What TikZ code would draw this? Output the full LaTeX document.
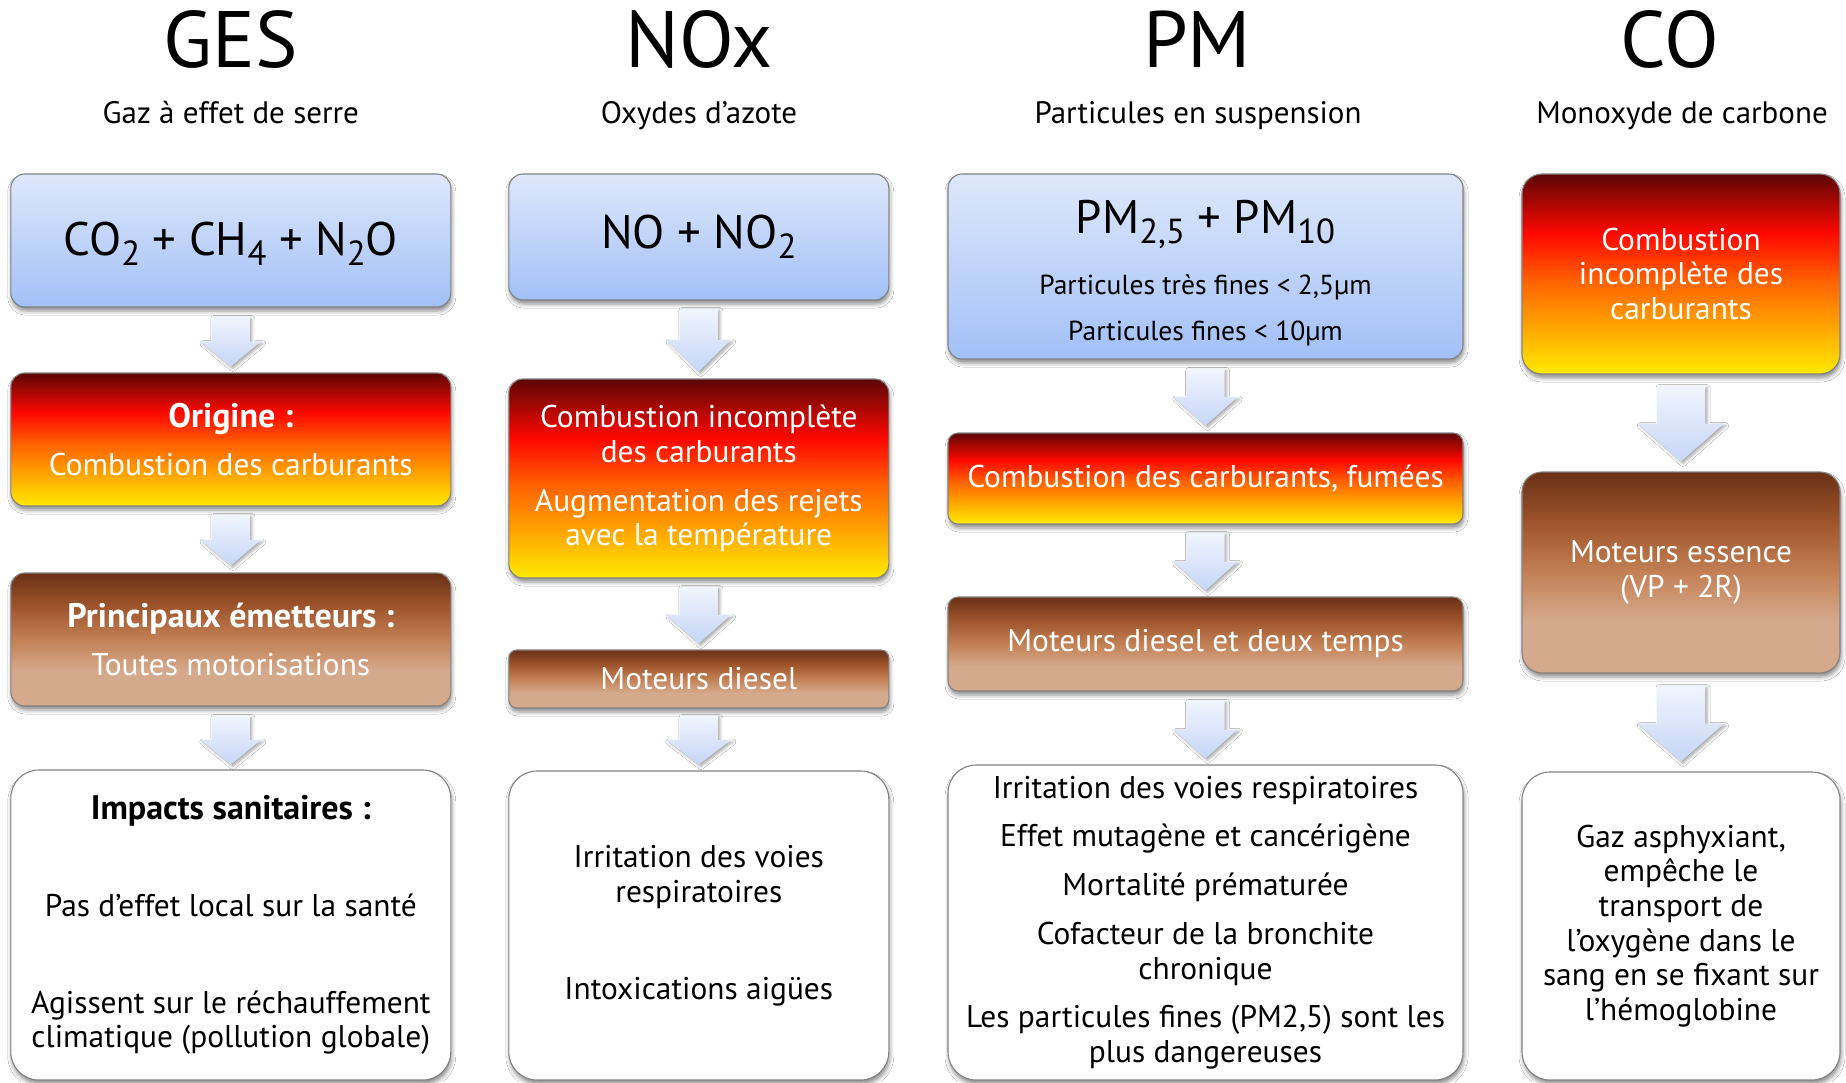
\documentclass[tikz,border=0pt]{standalone}
\usepackage{fontspec}
\setmainfont{PT Sans}
\usepackage{graphicx}
\usetikzlibrary{calc,shadows.blur}

\definecolor{fdark}{RGB}{92,6,6}
\definecolor{fred}{RGB}{255,8,0}
\definecolor{forgA}{RGB}{255,100,0}
\definecolor{forgB}{RGB}{255,170,0}
\definecolor{fyel}{RGB}{255,234,0}
\definecolor{bdark}{RGB}{106,48,22}
\definecolor{bmidA}{RGB}{160,86,45}
\definecolor{bmidB}{RGB}{195,128,85}
\definecolor{blight}{RGB}{213,170,140}
\definecolor{blueTop}{RGB}{222,232,251}
\definecolor{blueBot}{RGB}{162,192,247}
\definecolor{arrTop}{RGB}{241,245,254}
\definecolor{arrBot}{RGB}{198,214,247}
\definecolor{boxline}{RGB}{130,130,130}

\pgfdeclareverticalshading{fireshade}{100bp}{color(0bp)=(fyel); color(25bp)=(fyel); color(36bp)=(forgB); color(48bp)=(forgA); color(60bp)=(fred); color(75bp)=(fdark); color(100bp)=(fdark)}
\pgfdeclareverticalshading{brownshade}{100bp}{color(0bp)=(blight); color(25bp)=(blight); color(38bp)=(blight); color(50bp)=(bmidB); color(62bp)=(bmidA); color(75bp)=(bdark); color(100bp)=(bdark)}
\pgfdeclareverticalshading{blueshade}{100bp}{color(0bp)=(blueBot); color(25bp)=(blueBot); color(75bp)=(blueTop); color(100bp)=(blueTop)}
\pgfdeclareverticalshading{arrowshade}{100bp}{color(0bp)=(arrBot); color(25bp)=(arrBot); color(75bp)=(arrTop); color(100bp)=(arrTop)}

\newcommand\bodyfont{\fontsize{31.4}{34.7}\selectfont}
\newcommand\formfont{\fontsize{47}{56}\selectfont}
\newcommand\hd[1]{{\fontsize{34}{34.7}\selectfont\bfseries #1}}
\newcommand\dn[1]{\raisebox{-0.22em}{\scalebox{0.74}{#1}}}

\newcommand\flowarrow[6]{%
  \path[flowarr] let \p1=($(#1.south)+(0,#3)$), \p2=($(#2.north)-(0,#4)$),
    \n1={0.5*(\y1-\y2)} in
    (\x1-#5pt,\y1) -- (\x1+#5pt,\y1) -- (\x1+#5pt,\y1-\n1) -- (\x1+#6pt,\y1-\n1)
    -- (\x2,\y2) -- (\x1-#6pt,\y1-\n1) -- (\x1-#5pt,\y1-\n1) -- cycle;}

\tikzset{
  box/.style={rounded corners=14pt, draw=boxline, line width=1.1pt, inner sep=0pt,
    align=center, font=\bodyfont,
    blur shadow={shadow xshift=1pt, shadow yshift=-4pt, shadow blur radius=4pt, shadow opacity=45}},
  bluebox/.style={box, shade, shading=blueshade, text=black},
  firebox/.style={box, shade, shading=fireshade, text=white},
  brownbox/.style={box, shade, shading=brownshade, text=white},
  whitebox/.style={box, fill=white, rounded corners=28pt, text=black},
  flowarr/.style={shade, shading=arrowshade,
    blur shadow={shadow xshift=2pt, shadow yshift=-2pt, shadow blur radius=3pt, shadow opacity=35}},
  titletxt/.style={anchor=base, font=\fontsize{80}{90}\selectfont},
  subtxt/.style={anchor=base, font=\fontsize{31}{36}\selectfont},
}

\begin{document}
\begin{tikzpicture}[x=1pt,y=-1pt]
\useasboundingbox (0,0) rectangle (1846,1082);
\fill[white] (0,0) rectangle (1846,1082);

% titles
\node[titletxt] (tGES) at (230.8,67) {GES};
\node[subtxt] (sGES) at (230.8,123) {Gaz à effet de serre};
\node[titletxt] (tNOx) at (699,67) {NOx};
\node[subtxt] (sNOx) at (699,123) {Oxydes d’azote};
\node[titletxt] (tPM) at (1197,67) {PM};
\node[subtxt] (sPM) at (1198,123) {Particules en suspension};
\node[titletxt] (tCO) at (1670,67) {CO};
\node[subtxt] (sCO) at (1682,123) {Monoxyde de carbone};

% GES column
\node[bluebox, minimum width=440pt, minimum height=133pt, font=\formfont] (g1) at (230.8,240.5)
  {\raisebox{-3.5pt}[\height][\depth]{CO\dn{2} + CH\dn{4} + N\dn{2}O}};
\node[firebox, minimum width=440pt, minimum height=133pt] (g2) at (230.8,439.5)
  {\hd{Origine :}\\[14pt]Combustion des carburants};
\node[brownbox, minimum width=440pt, minimum height=133pt] (g3) at (230.8,639.5)
  {\hd{Principaux émetteurs :}\\[14pt]Toutes motorisations};
\node[whitebox, minimum width=440pt, minimum height=310pt] (g4) at (230.8,925)
  {\hd{Impacts sanitaires :}\\[62pt]Pas d’effet local sur la santé\\[62pt]Agissent sur le réchauffement\\climatique (pollution globale)};

% NOx column
\node[bluebox, minimum width=380pt, minimum height=126pt, font=\formfont] (n1) at (698.8,237)
  {NO + NO\dn{2}};
\node[firebox, minimum width=380pt, minimum height=199pt] (n2) at (698.8,478.5)
  {Combustion incomplète\\des carburants\\[14pt]Augmentation des rejets\\avec la température};
\node[brownbox, minimum width=380pt, minimum height=58pt, rounded corners=8pt] (n3) at (698.8,679)
  {Moteurs diesel};
\node[whitebox, minimum width=380pt, minimum height=309pt] (n4) at (698.8,925.5)
  {Irritation des voies\\respiratoires\\[62pt]Intoxications aigües};

% PM column
\node[bluebox, minimum width=515pt, minimum height=185pt] (p1) at (1205.5,266.5) {};
\node[align=center, inner sep=0pt, font=\fontsize{27.5}{46}\selectfont] (p1t) at ($(p1.center)+(0,6.5)$)
  {{\formfont PM\dn{2,5} + PM\dn{10}}\\[15pt]Particules très fines < 2,5µm\\Particules fines < 10µm};
\node[firebox, minimum width=515pt, minimum height=91pt, rounded corners=10pt] (p2) at (1205.5,478.5)
  {Combustion des carburants, fumées};
\node[brownbox, minimum width=515pt, minimum height=94pt, rounded corners=10pt] (p3) at (1205.5,644)
  {Moteurs diesel et deux temps};
\node[whitebox, minimum width=515pt, minimum height=315pt] (p4) at (1205.5,922.5)
  {Irritation des voies respiratoires\\[14pt]Effet mutagène et cancérigène\\[14pt]Mortalité prématurée\\[14pt]Cofacteur de la bronchite\\chronique\\[14pt]Les particules fines (PM2,5) sont les\\plus dangereuses};

% CO column
\node[firebox, minimum width=318pt, minimum height=200pt, rounded corners=20pt] (c1) at (1681,274)
  {Combustion\\incomplète des\\carburants};
\node[brownbox, minimum width=318pt, minimum height=201pt, rounded corners=20pt] (c2) at (1681,572.5)
  {Moteurs essence\\(VP + 2R)};
\node[whitebox, minimum width=318pt, minimum height=308pt] (c3) at (1681,926)
  {Gaz asphyxiant,\\empêche le\\transport de\\l’oxygène dans le\\sang en se fixant sur\\l’hémoglobine};

% arrows
\flowarrow{g1}{g2}{9}{6}{19}{30}
\flowarrow{g2}{g3}{8}{7}{19}{30}
\flowarrow{g3}{g4}{9}{5}{19}{30}
\flowarrow{n1}{n2}{8}{7}{19}{32}
\flowarrow{n2}{n3}{8}{6}{19}{32}
\flowarrow{n3}{n4}{7}{6}{19}{32}
\flowarrow{p1}{p2}{9}{7}{19}{32}
\flowarrow{p2}{p3}{8}{6}{19}{32}
\flowarrow{p3}{p4}{9}{6}{19}{32}
\flowarrow{c1}{c2}{11}{10}{24}{43}
\flowarrow{c2}{c3}{12}{10}{24}{43}
\end{tikzpicture}
\end{document}
